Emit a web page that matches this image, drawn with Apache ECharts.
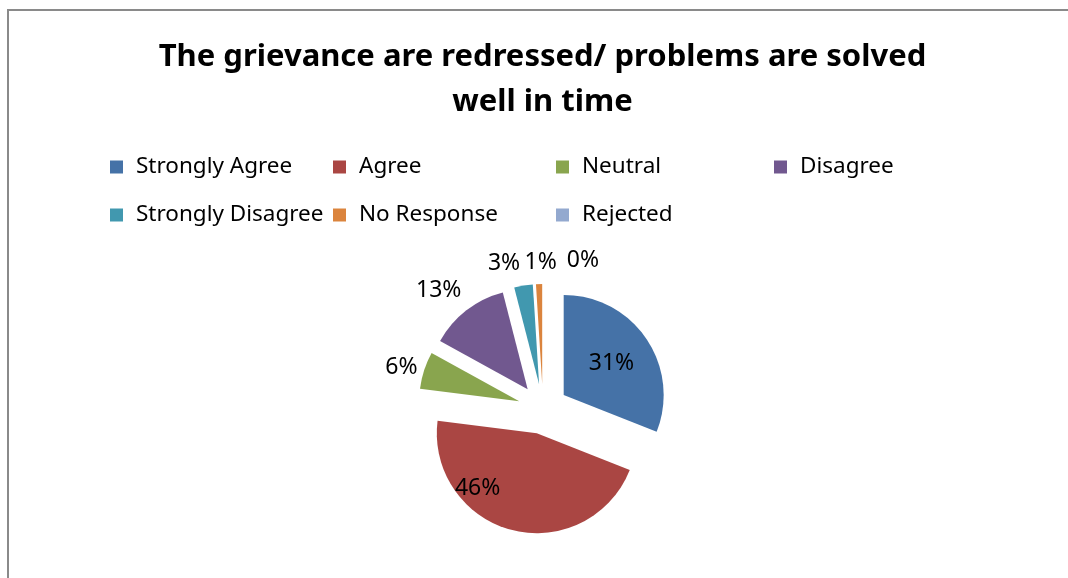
<!DOCTYPE html>
<html><head><meta charset="utf-8">
<script src="https://cdn.jsdelivr.net/npm/echarts@6/dist/echarts.min.js"></script>
<style>html,body{margin:0;padding:0;background:#fff}#c{width:1068px;height:578px}</style>
</head><body><div id="c"></div>
<script>
const titleText = 'The grievance are redressed/ problems are solved\nwell in time';
const categories = ['Strongly Agree', 'Agree', 'Neutral', 'Disagree', 'Strongly Disagree', 'No Response', 'Rejected'];
const values = [31, 46, 6, 13, 3, 1, 0];
const colors = ['#4572A7', '#AA4643', '#89A54E', '#71588F', '#4198AF', '#DB843D', '#93A9CF'];
const labelInside = [true, true, false, false, false, false, false];
const legendColumns = [[0, 4], [1, 5], [2, 6], [3]];
const legendLefts = [110, 333, 556, 774];
// label nudges (pixels) to match the reference's label placement
const labelNudge = [[4, -2], [-46, 4], [6, 0], [5, -13], [3, -14], [23, -14], [61, -16]];

const FONT = "'Noto Sans', sans-serif";
const chart = echarts.init(document.getElementById('c'), null, {renderer: 'canvas'});

const pieData = categories.map((name, i) => ({
  name: name,
  value: values[i],
  selected: true,
  itemStyle: {color: colors[i]},
  label: {position: labelInside[i] ? 'inside' : 'outside'}
}));

const legends = legendColumns.map((col, k) => ({
  orient: 'vertical',
  left: legendLefts[k],
  top: 154,
  padding: 0,
  itemWidth: 13,
  itemHeight: 13,
  itemGap: 22,
  icon: 'rect',
  selectedMode: false,
  data: col.map(i => categories[i]),
  textStyle: {fontFamily: FONT, fontSize: 22.5, color: '#000', lineHeight: 26, padding: [0, 0, 0, 8]}
}));

chart.setOption({
  animation: false,
  backgroundColor: '#fff',
  color: colors,
  legend: legends,
  graphic: [{
    type: 'rect', silent: true,
    shape: {x: 8, y: 10, width: 1200, height: 700},
    style: {fill: 'none', stroke: '#8a8a8a', lineWidth: 2}
  }, {
    type: 'text', silent: true,
    x: 542.5, y: 35,
    style: {
      text: titleText, align: 'center', verticalAlign: 'top',
      fontFamily: FONT, fontSize: 31, fontWeight: 'bold', fill: '#000', lineHeight: 45
    }
  }],
  series: [{
    type: 'pie',
    center: [543, 409],
    radius: 100,
    startAngle: 90,
    clockwise: true,
    selectedMode: 'multiple',
    selectedOffset: 25,
    avoidLabelOverlap: false,
    emphasis: {disabled: true},
    select: {itemStyle: {}},
    label: {
      formatter: '{d}%',
      fontFamily: FONT, fontSize: 23, color: '#000'
    },
    labelLine: {show: false, length: 8, length2: 0},
    labelLayout: function (p) {
      const n = labelNudge[p.dataIndex] || [0, 0];
      return {dx: n[0], dy: n[1], hideOverlap: false, moveOverlap: false};
    },
    data: pieData
  }]
});
</script></body></html>
